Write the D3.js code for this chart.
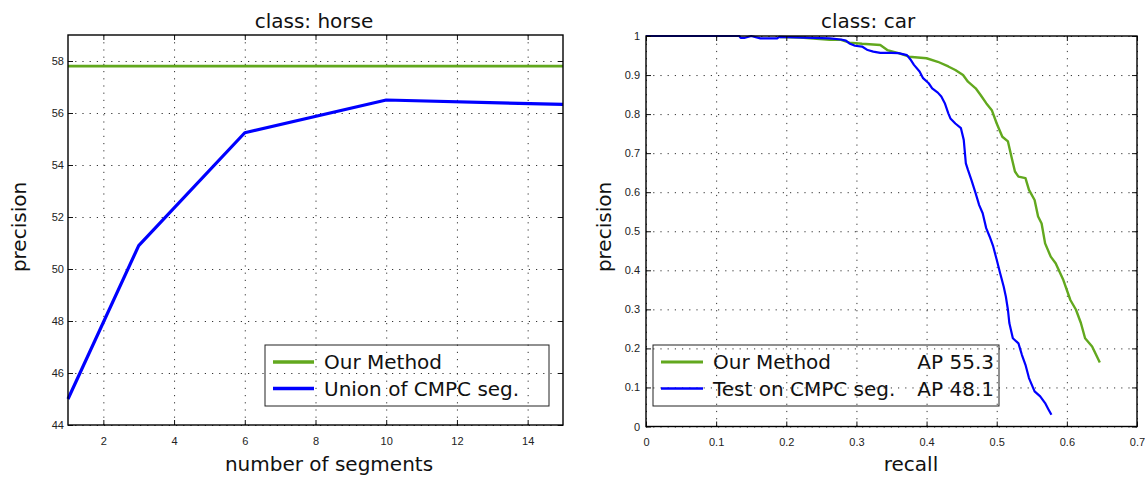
<!DOCTYPE html>
<html>
<head>
<meta charset="utf-8">
<script src="https://cdn.jsdelivr.net/npm/d3@7"></script>
<style>
  body { margin: 0; background: #fff; }
  svg { display: block; }
  .tick text { font-family: "Liberation Sans", Arial, sans-serif; font-size: 11px; fill: #222; }
  .grid line { stroke: #333; stroke-width: 1; stroke-dasharray: 1.2, 6; }
  .grid .domain { display: none; }
  .title, .label, .legend text { font-family: "DejaVu Sans", sans-serif; fill: #111; }
</style>
</head>
<body>
<svg width="1145" height="478"></svg>
<script>
// ---- left panel: class horse ----
var horseSegments = [1, 3, 6, 10, 15];
var horseUnion = [45.0, 50.9, 55.24, 56.5, 56.33];
var horseOursX = [1, 15];
var horseOursY = [57.8, 57.8];
var horseXTicks = [2, 4, 6, 8, 10, 12, 14];
var horseYTicks = [44, 46, 48, 50, 52, 54, 56, 58];
var horseLegend = ["Our Method", "Union of CMPC seg."];

// ---- right panel: class car (precision / recall) ----
var carOursRecall = [0.191, 0.22, 0.262, 0.278, 0.29, 0.308, 0.334, 0.344, 0.36, 0.375, 0.40, 0.416,
  0.431, 0.441, 0.452, 0.459, 0.47, 0.477, 0.485, 0.493, 0.50, 0.508, 0.516, 0.521, 0.526, 0.531,
  0.541, 0.546, 0.554, 0.559, 0.564, 0.569, 0.577, 0.584, 0.595, 0.605, 0.613, 0.62, 0.626, 0.636, 0.647];
var carOursPrecision = [0.997, 0.996, 0.99, 0.99, 0.983, 0.98, 0.977, 0.964, 0.956, 0.947, 0.943, 0.934,
  0.922, 0.913, 0.90, 0.883, 0.866, 0.849, 0.828, 0.81, 0.776, 0.742, 0.73, 0.691, 0.653, 0.64,
  0.636, 0.606, 0.58, 0.538, 0.52, 0.469, 0.435, 0.418, 0.375, 0.324, 0.299, 0.265, 0.226, 0.205, 0.164];

var carCmpcRecall = [0, 0.133, 0.135, 0.14, 0.15, 0.163, 0.187, 0.19, 0.262, 0.278, 0.285, 0.29, 0.298,
  0.308, 0.316, 0.324, 0.334, 0.35, 0.36, 0.372, 0.377, 0.382, 0.39, 0.395, 0.403, 0.408, 0.416,
  0.421, 0.426, 0.431, 0.434, 0.441, 0.449, 0.453, 0.456, 0.459, 0.464, 0.47, 0.475, 0.48, 0.485,
  0.49, 0.495, 0.50, 0.505, 0.51, 0.513, 0.516, 0.518, 0.523, 0.531, 0.536, 0.541, 0.546, 0.554,
  0.562, 0.569, 0.574, 0.578];
var carCmpcPrecision = [1.0, 1.0, 0.995, 0.995, 1.0, 0.994, 0.994, 0.998, 0.994, 0.991, 0.988, 0.981, 0.975,
  0.973, 0.964, 0.96, 0.957, 0.957, 0.956, 0.951, 0.94, 0.926, 0.909, 0.892, 0.879, 0.866, 0.855,
  0.845, 0.828, 0.802, 0.789, 0.776, 0.764, 0.734, 0.674, 0.657, 0.631, 0.597, 0.567, 0.546, 0.508,
  0.486, 0.461, 0.427, 0.392, 0.358, 0.333, 0.299, 0.265, 0.226, 0.213, 0.183, 0.158, 0.124, 0.09,
  0.077, 0.06, 0.043, 0.03];
var carXTicks = [0, 0.1, 0.2, 0.3, 0.4, 0.5, 0.6, 0.7];
var carYTicks = [0, 0.1, 0.2, 0.3, 0.4, 0.5, 0.6, 0.7, 0.8, 0.9, 1];
var carLegend = ["Our Method", "Test on CMPC seg."];
var carAP = ["AP 55.3", "AP 48.1"];

var green = "#62a81e", blue = "#0000ff";

var svg = d3.select("svg");

function zip(a, b) { return a.map((v, i) => [v, b[i]]); }

function panel(opt) {
  var x = d3.scaleLinear().domain(opt.xDomain).range([opt.left, opt.right]);
  var y = d3.scaleLinear().domain(opt.yDomain).range([opt.bottom, opt.top]);
  var g = svg.append("g");
  var h = opt.bottom - opt.top, w = opt.right - opt.left;

  // dotted grid
  g.append("g").attr("class", "grid")
    .attr("transform", "translate(0," + opt.bottom + ")")
    .call(d3.axisBottom(x).tickValues(opt.xTicks).tickSize(-h).tickFormat(""));
  g.append("g").attr("class", "grid")
    .attr("transform", "translate(" + opt.left + ",0)")
    .call(d3.axisLeft(y).tickValues(opt.yTicks).tickSize(-w).tickFormat(""));

  var line = d3.line().x(d => x(d[0])).y(d => y(d[1]));
  opt.series.forEach(s => {
    g.append("path")
      .datum(s.data)
      .attr("fill", "none")
      .attr("stroke", s.color)
      .attr("stroke-width", s.width)
      .attr("stroke-linejoin", "round")
      .attr("d", line);
  });

  // axes with inward ticks on all four sides
  g.append("g").attr("transform", "translate(0," + opt.bottom + ")")
    .call(d3.axisBottom(x).tickValues(opt.xTicks).tickSize(-5).tickPadding(12).tickFormat(opt.fmt));
  g.append("g").attr("transform", "translate(" + opt.left + ",0)")
    .call(d3.axisLeft(y).tickValues(opt.yTicks).tickSize(-5).tickPadding(opt.yPad).tickFormat(opt.fmt));
  g.append("g").attr("transform", "translate(0," + opt.top + ")")
    .call(d3.axisTop(x).tickValues(opt.xTicks).tickSize(-5).tickFormat(""));
  g.append("g").attr("transform", "translate(" + opt.right + ",0)")
    .call(d3.axisRight(y).tickValues(opt.yTicks).tickSize(-5).tickFormat(""));
  g.selectAll(".domain").filter(function () { return !this.parentNode.classList.contains("grid"); })
    .attr("stroke", "none");
  g.selectAll(".tick line").filter(function () { return !this.parentNode.parentNode.classList.contains("grid"); })
    .attr("stroke", "#111");

  g.append("rect")
    .attr("x", opt.left).attr("y", opt.top)
    .attr("width", w).attr("height", h)
    .attr("fill", "none").attr("stroke", "#000").attr("stroke-width", 1.4);

  g.append("text").attr("class", "title")
    .attr("x", opt.titleX).attr("y", 28)
    .attr("text-anchor", "middle").style("font-size", "20px")
    .text(opt.title);
  g.append("text").attr("class", "label")
    .attr("x", opt.xLabelX).attr("y", 471)
    .attr("text-anchor", "middle").style("font-size", "20px")
    .text(opt.xLabel);
  g.append("text").attr("class", "label")
    .attr("transform", "translate(" + opt.yLabelX + ",227) rotate(-90)")
    .attr("text-anchor", "middle").style("font-size", "20px")
    .text("precision");

  // legend
  var lg = g.append("g").attr("class", "legend");
  var L = opt.legend;
  lg.append("rect")
    .attr("x", L.x0).attr("y", 345).attr("width", L.x1 - L.x0).attr("height", 61)
    .attr("fill", "none").attr("stroke", "#222").attr("stroke-width", 1);
  L.labels.forEach((t, i) => {
    var cy = 362 + i * 26.5;
    lg.append("line")
      .attr("x1", L.lineX0).attr("x2", L.lineX1).attr("y1", cy).attr("y2", cy)
      .attr("stroke", opt.series[i].color).attr("stroke-width", opt.series[i].width + 0.5);
    lg.append("text").attr("x", L.textX).attr("y", cy + 7)
      .style("font-size", "20px").text(t);
    if (L.right) {
      lg.append("text").attr("x", L.rightX).attr("y", cy + 7)
        .attr("text-anchor", "end").style("font-size", "20px").text(L.right[i]);
    }
  });
}

panel({
  left: 68, right: 563, top: 35, bottom: 425,
  xDomain: [1, 15], yDomain: [44, 59],
  xTicks: horseXTicks, yTicks: horseYTicks, yPad: 4,
  fmt: d3.format("d"),
  title: "class: horse", titleX: 314,
  xLabel: "number of segments", xLabelX: 329, yLabelX: 26,
  series: [
    { data: zip(horseOursX, horseOursY), color: green, width: 2.8 },
    { data: zip(horseSegments, horseUnion), color: blue, width: 3.2 }
  ],
  legend: { x0: 265, x1: 549, lineX0: 273, lineX1: 314, textX: 324, labels: horseLegend }
});

panel({
  left: 646, right: 1137, top: 36, bottom: 426.5,
  xDomain: [0, 0.7], yDomain: [0, 1],
  xTicks: carXTicks, yTicks: carYTicks, yPad: 6,
  fmt: d => String(+d.toFixed(1)),
  title: "class: car", titleX: 868,
  xLabel: "recall", xLabelX: 911, yLabelX: 611,
  series: [
    { data: zip(carOursRecall, carOursPrecision), color: green, width: 2.4 },
    { data: zip(carCmpcRecall, carCmpcPrecision), color: blue, width: 2.2 }
  ],
  legend: { x0: 653, x1: 999, lineX0: 661, lineX1: 703, textX: 713, rightX: 994,
            labels: carLegend, right: carAP }
});
</script>
</body>
</html>
